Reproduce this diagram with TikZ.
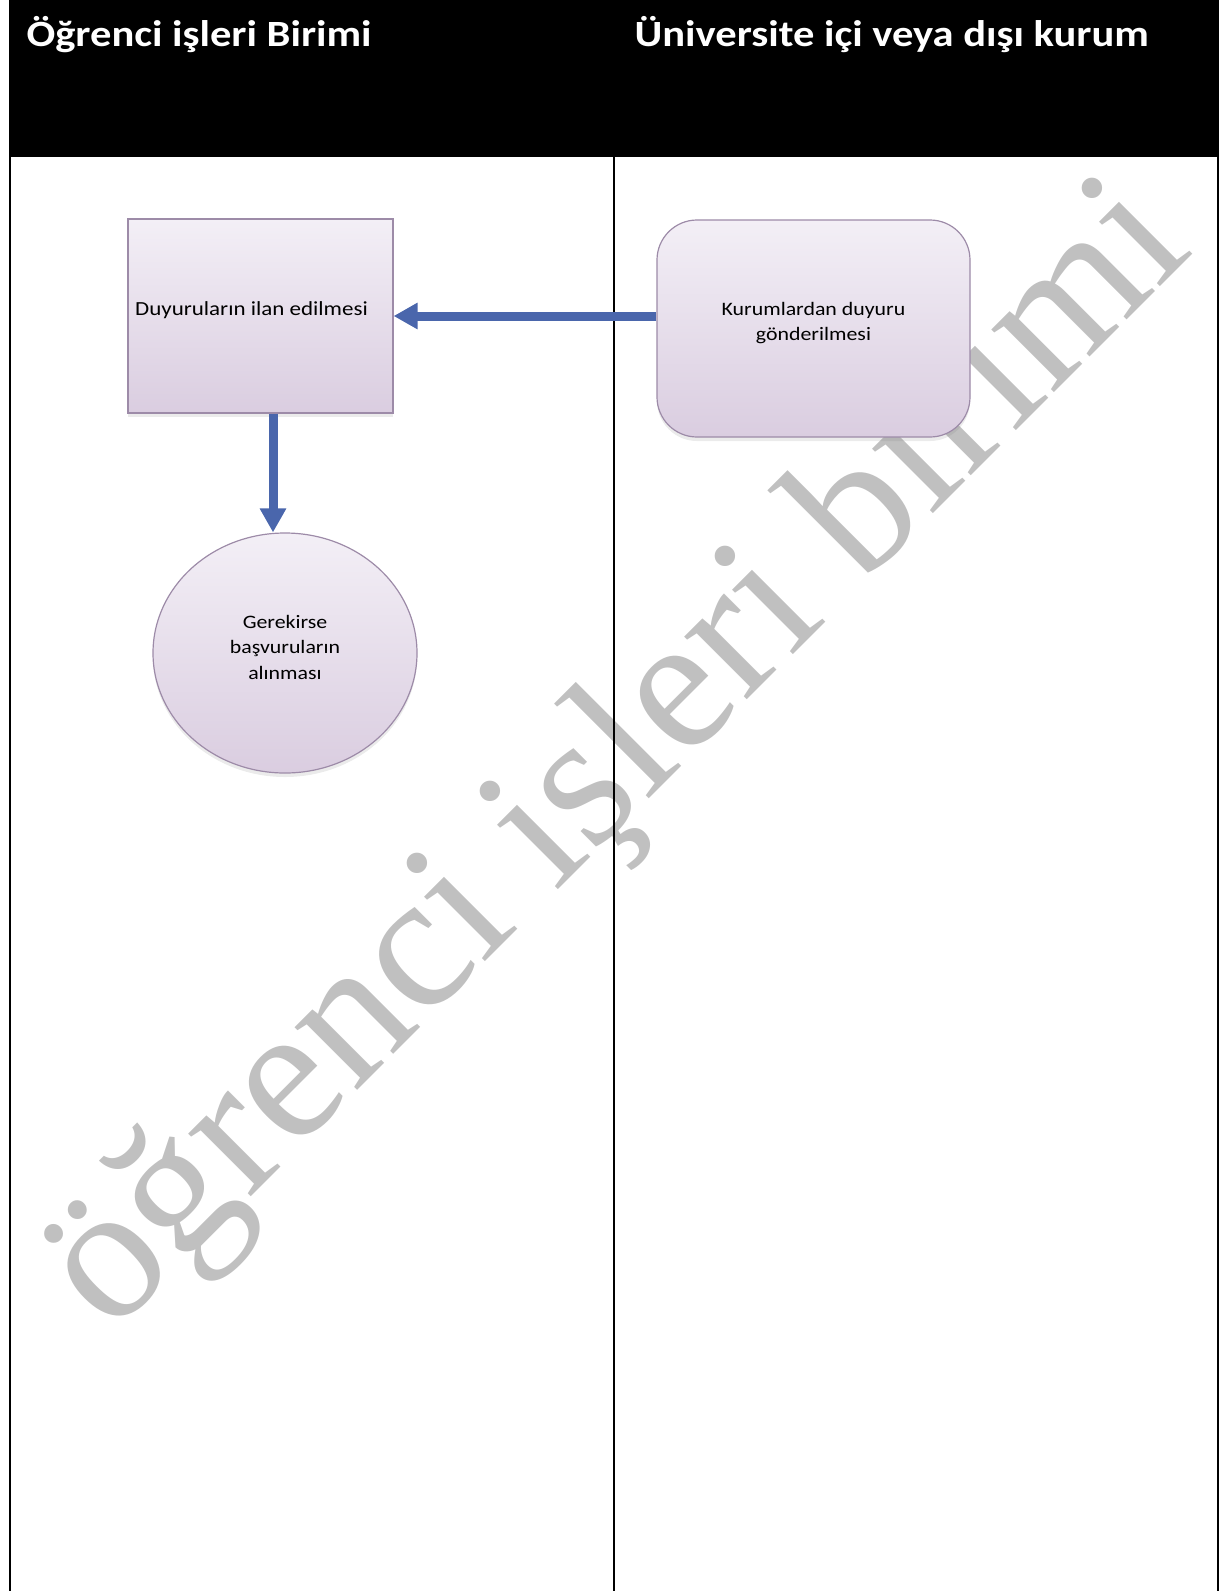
\documentclass[tikz,border=0pt]{standalone}
\usepackage{fontspec}
\setmainfont{Carlito}[FakeStretch=1.15]
\newfontfamily\markfont{Liberation Serif}
\usetikzlibrary{arrows.meta,shapes.geometric,shadows}
\definecolor{boxline}{HTML}{9D8BA8}
\definecolor{boxtop}{HTML}{F3EFF6}
\definecolor{boxbottom}{HTML}{DACDE0}
\definecolor{flowblue}{HTML}{4A66AC}
\definecolor{markgray}{HTML}{C0C0C0}
\tikzset{
  shape box/.style={draw=boxline, line width=1.2pt, top color=boxtop, bottom color=boxbottom,
    align=center, font=\fontsize{19}{25.4}\selectfont, inner sep=0pt, text depth=14pt,
    drop shadow={opacity=0.16, shadow xshift=0pt, shadow yshift=-4pt}},
  lane title/.style={anchor=base west, text=white, font=\bfseries\fontsize{37}{44}\selectfont},
  flow/.style={draw=flowblue, line width=9pt, -{Triangle[length=24pt, width=25pt]}},
  lane/.style={line width=2pt}
}
\begin{document}
\begin{tikzpicture}[x=1pt, y=-1pt]
\useasboundingbox (0,0) rectangle (1219,1591);
% watermark
\node[rotate=45, text=markgray, font=\markfont\fontsize{193}{193}\selectfont, inner sep=0pt]
    (mark) at (621,761) {öğrenci işleri birimi};
% lanes
\fill (9,0) rectangle (1219,157);
\draw[lane] (10,157) -- (10,1591);
\draw[lane] (614,157) -- (614,1591);
\draw[lane] (1218,157) -- (1218,1591);
\node[lane title] (left lane) at (23,46) {Öğrenci işleri Birimi};
\node[lane title] (right lane) at (631,46) {Üniversite içi veya dışı kurum};
% shapes
\node[shape box, font=\fontsize{20}{25.4}\selectfont, minimum width=265pt, minimum height=194pt] (ilan) at (260.5,316)
    {Duyuruların ilan edilmesi\hspace*{18pt}};
\node[shape box, rounded corners=40pt, minimum width=313pt, minimum height=217pt] (kurum) at (813.5,328.5)
    {Kurumlardan duyuru\\gönderilmesi};
\node[shape box, ellipse, text depth=12pt, minimum width=264pt, minimum height=240pt] (basvuru) at (285,653)
    {Gerekirse\\başvuruların\\alınması};
% connectors
\draw[flow] (kurum.west |- ilan.east) -- (ilan.east);
\draw[flow] ([xshift=12.5pt]ilan.south) -- ([xshift=-12pt]basvuru.north);
\end{tikzpicture}
\end{document}
